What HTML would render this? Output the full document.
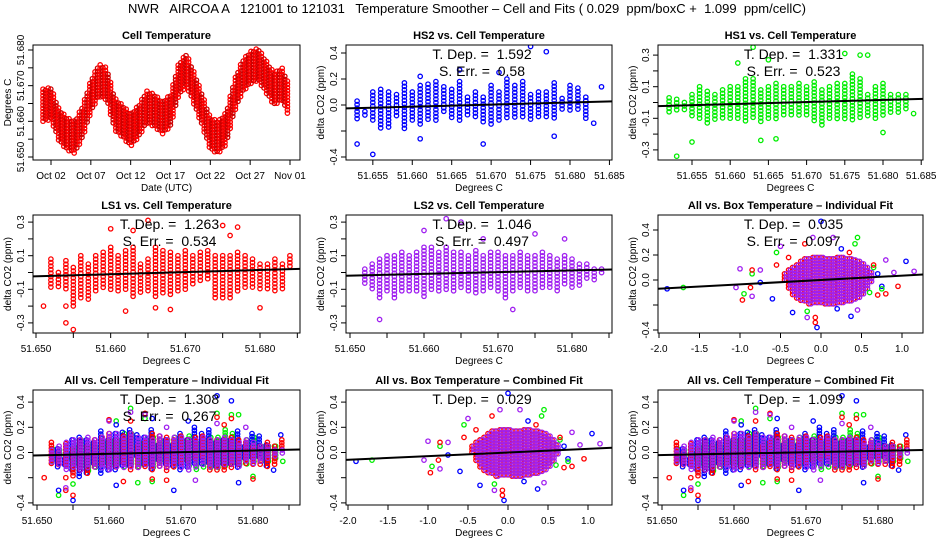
<!DOCTYPE html>
<html><head><meta charset="utf-8">
<style>
html,body{margin:0;padding:0;background:#fff;}
svg{display:block;font-family:"Liberation Sans",sans-serif;}
text{white-space:pre;}
</style></head>
<body>
<svg id="chart" width="936" height="540" viewBox="0 0 936 540" xmlns="http://www.w3.org/2000/svg">
<rect x="0" y="0" width="936" height="540" fill="#fff"/>
<text x="467" y="13" text-anchor="middle" font-size="13" xml:space="preserve">NWR   AIRCOA A   121001 to 121031   Temperature Smoother – Cell and Fits ( 0.029  ppm/boxC +  1.099  ppm/cellC)</text>
<defs id="defs"></defs>
</svg>
<script>
// ---------- DATA ----------
const tsDays = [1,2,3,4,5,6,7,8,9,10,11,12,13,14,15,16,17,18,19,20,21,22,23,24,25,26,27,28,29,30,31,32];
const tsTemps = [51.6645,51.665,51.659,51.6565,51.6555,51.660,51.667,51.6715,51.6705,51.662,51.660,51.6575,51.660,51.664,51.663,51.661,51.663,51.6715,51.6745,51.669,51.663,51.6565,51.6555,51.658,51.667,51.6725,51.675,51.676,51.6725,51.669,51.6705,51.665];
const tsDateTicks = [2,7,12,17,22,27,32];
const tsDateLabels = ["Oct 02","Oct 07","Oct 12","Oct 17","Oct 22","Oct 27","Nov 01"];

const hs2Bins = [51.653,51.654,51.655,51.656,51.657,51.658,51.659,51.660,51.661,51.662,51.663,51.664,51.665,51.666,51.667,51.668,51.669,51.670,51.671,51.672,51.673,51.674,51.675,51.676,51.677,51.678,51.679,51.680,51.681,51.682,51.683,51.684];
const hs2Lo = [-0.12,-0.1,-0.14,-0.2,-0.18,-0.1,-0.18,-0.14,-0.15,-0.12,-0.12,-0.05,-0.1,-0.13,-0.08,-0.1,-0.13,-0.15,-0.12,-0.1,-0.1,-0.1,-0.12,-0.1,-0.1,-0.12,-0.05,-0.05,-0.05,-0.12,-0.15,0.14];
const hs2Hi = [0.03,-0.05,0.1,0.12,0.1,0.08,0.17,0.1,0.15,0.16,0.18,0.14,0.12,0.18,0.06,0.1,0.06,0.15,0.1,0.2,0.15,0.18,0.08,0.1,0.1,0.17,0.05,0.15,0.13,0.06,-0.14,0.14];
const hs2OutX = [51.653,51.655,51.661,51.669,51.675,51.677,51.666,51.671,51.678,51.661];
const hs2OutY = [-0.3,-0.38,-0.26,-0.3,0.45,0.41,0.27,0.25,-0.24,0.22];

const hs1Bins = [51.652,51.653,51.654,51.655,51.656,51.657,51.658,51.659,51.660,51.661,51.662,51.663,51.664,51.665,51.666,51.667,51.668,51.669,51.670,51.671,51.672,51.673,51.674,51.675,51.676,51.677,51.678,51.679,51.680,51.681,51.682,51.683,51.684];
const hs1Lo = [-0.08,-0.05,-0.05,-0.1,-0.12,-0.15,-0.12,-0.1,-0.1,-0.1,-0.12,-0.1,-0.12,-0.1,-0.12,-0.08,-0.08,-0.1,-0.08,-0.12,-0.15,-0.12,-0.12,-0.12,-0.12,-0.1,-0.1,-0.1,-0.08,-0.08,-0.08,-0.05,-0.08];
const hs1Hi = [0.03,0.02,0,0.05,0.1,0.07,0.05,0.08,0.1,0.1,0.15,0.15,0.08,0.1,0.12,0.1,0.1,0.12,0.1,0.13,0.08,0.1,0.12,0.12,0.18,0.15,0.05,0.1,0.12,0.05,0.05,0.05,-0.07];
const hs1OutX = [51.653,51.655,51.663,51.665,51.661,51.675,51.677,51.678,51.664,51.666,51.680];
const hs1OutY = [-0.34,-0.25,0.35,0.27,0.25,0.31,0.3,0.3,-0.24,-0.23,-0.19];

const ls1Bins = [51.651,51.652,51.653,51.654,51.655,51.656,51.657,51.658,51.659,51.660,51.661,51.662,51.663,51.664,51.665,51.666,51.667,51.668,51.669,51.670,51.671,51.672,51.673,51.674,51.675,51.676,51.677,51.678,51.679,51.680,51.681,51.682,51.683,51.684];
const ls1Lo = [-0.2,-0.1,-0.1,-0.1,-0.2,-0.15,-0.17,-0.12,-0.1,-0.12,-0.12,-0.1,-0.15,-0.12,-0.12,-0.15,-0.12,-0.15,-0.12,-0.1,-0.08,-0.05,-0.05,-0.15,-0.15,-0.15,-0.12,-0.1,-0.1,-0.1,-0.1,-0.12,-0.1,0.02];
const ls1Hi = [-0.2,0.08,0,0.07,0.03,0.1,0.05,0.1,0.12,0.15,0.1,0.13,0.15,0.05,0.08,0.15,0.13,0.12,0.1,0.13,0.1,0.12,0.13,0.1,0.1,0.1,0.12,0.1,0.08,0.05,0.05,0.08,0.05,0.1];
const ls1OutX = [51.654,51.655,51.654,51.660,51.663,51.665,51.675,51.677,51.676,51.662,51.680,51.668,51.666];
const ls1OutY = [-0.3,-0.34,-0.2,0.26,0.25,0.31,0.28,0.27,0.22,-0.23,-0.21,-0.22,-0.21];

const ls2Bins = [51.652,51.653,51.654,51.655,51.656,51.657,51.658,51.659,51.660,51.661,51.662,51.663,51.664,51.665,51.666,51.667,51.668,51.669,51.670,51.671,51.672,51.673,51.674,51.675,51.676,51.677,51.678,51.679,51.680,51.681,51.682,51.683,51.684];
const ls2Lo = [-0.08,-0.1,-0.15,-0.12,-0.15,-0.12,-0.12,-0.12,-0.15,-0.12,-0.12,-0.12,-0.12,-0.1,-0.12,-0.12,-0.12,-0.1,-0.12,-0.15,-0.12,-0.1,-0.12,-0.12,-0.1,-0.1,-0.12,-0.08,-0.1,-0.08,-0.05,-0.05,-0.02];
const ls2Hi = [0.02,0.05,0.08,0.1,0.1,0.12,0.1,0.12,0.15,0.15,0.12,0.15,0.12,0.12,0.1,0.13,0.1,0.12,0.12,0.1,0.1,0.12,0.1,0.1,0.12,0.1,0.08,0.1,0.08,0.05,0.05,0.02,0.02];
const ls2OutX = [51.654,51.663,51.665,51.675,51.679,51.660,51.668,51.672];
const ls2OutY = [-0.28,0.32,0.3,0.23,0.2,0.25,0.2,-0.22];

const boxBins = [-0.45,-0.4,-0.35,-0.3,-0.25,-0.2,-0.15,-0.1,-0.05,0,0.05,0.1,0.15,0.2,0.25,0.3,0.35,0.4,0.45,0.5,0.55,0.6];
const boxLo = [-0.02,-0.08,-0.12,-0.15,-0.17,-0.18,-0.2,-0.2,-0.2,-0.2,-0.2,-0.2,-0.2,-0.2,-0.2,-0.18,-0.18,-0.17,-0.15,-0.12,-0.08,-0.03];
const boxHi = [0.05,0.08,0.1,0.12,0.15,0.17,0.17,0.18,0.18,0.18,0.17,0.17,0.17,0.18,0.18,0.17,0.17,0.16,0.15,0.13,0.1,0.06];
const boxBlueX = [-1.9,-0.75,1.05,0.25,-0.6,-0.05,0.0,0.37,0.2,-0.35,0.7,0.75];
const boxBlueY = [-0.07,-0.02,0.15,0.25,-0.15,-0.38,0.47,-0.29,-0.23,-0.26,0.05,-0.05];
const boxGreenX = [-1.7,-0.95,-0.85,-0.55,0.45,0.42,-0.17,0.75,0.6,0.65];
const boxGreenY = [-0.06,-0.11,0.05,0.22,0.34,0.29,-0.25,-0.07,-0.1,0.1];
const boxRedX = [-0.97,-0.87,-0.85,-0.55,-0.07,-0.07,0.95,0.8,-0.2,0.65,0.35,-0.4,0.7];
const boxRedY = [-0.16,-0.06,0.08,0.12,-0.3,-0.34,-0.05,-0.11,0.29,0.12,0.22,0.18,-0.12];
const boxPurpleX = [-1.0,-1.05,-0.85,-0.75,-0.1,0.15,1.15,0.9,0.45,-0.17,-0.5,0.8];
const boxPurpleY = [0.09,-0.06,-0.13,0.08,0.34,0.34,0.07,0.06,-0.24,-0.3,0.27,0.16];

const slopes = [1.592,1.331,1.263,1.046,0.035,1.308,0.029,1.099];
const sErrs = ["0.58","0.523","0.534","0.497","0.097","0.267"];
const tDeps = ["1.592","1.331","1.263","1.046","0.035","1.308","0.029","1.099"];

const cellTicks = [51.650,51.655,51.660,51.665,51.670,51.675,51.680,51.685];
const boxTicks = [-2.0,-1.5,-1.0,-0.5,0.0,0.5,1.0];
const boxTickLabels = ["-2.0","-1.5","-1.0","-0.5","0.0","0.5","1.0"];
const co2Ticks4 = [-0.4,-0.2,0.0,0.2,0.4];
const co2Labels4 = ["-0.4","","0.0","0.2","0.4"];
const co2Ticks3 = [-0.3,-0.2,-0.1,0.0,0.1,0.2,0.3];
const co2Labels3 = ["-0.3","","-0.1","","0.1","","0.3"];
const tempYTicks = [51.650,51.655,51.660,51.665,51.670,51.675,51.680];
const tempYLabels = ["51.650","","51.660","","51.670","","51.680"];

// ---------- RENDERING ----------
const NS = "http://www.w3.org/2000/svg";
const svg = document.getElementById("chart");
const defs = document.getElementById("defs");
const C = {blue:"#0000ff", green:"#00ee00", red:"#ff0000", purple:"#a020f0"};

function lin(d0, p0, d1, p1){ return v => p0 + (v - d0) * (p1 - p0) / (d1 - d0); }

function mkPanel(id, box, xs, ys){
  const g = document.createElementNS(NS, "g");
  
  
  svg.appendChild(g);
  const cp = document.createElementNS(NS, "clipPath");
  cp.setAttribute("id", "clip-" + id);
  const r = document.createElementNS(NS, "rect");
  r.setAttribute("x", box[0]); r.setAttribute("y", box[1]);
  r.setAttribute("width", box[2]-box[0]); r.setAttribute("height", box[3]-box[1]);
  cp.appendChild(r); defs.appendChild(cp);
  const marks = document.createElementNS(NS, "g");
  marks.setAttribute("clip-path", "url(#clip-" + id + ")");
  
  
  g.appendChild(marks);
  return {g, marks, box, xs, ys};
}

function circ(p, x, y, color, name){
  const c = document.createElementNS(NS, "circle");
  c.setAttribute("cx", x.toFixed(1));
  c.setAttribute("cy", y.toFixed(1));
  c.setAttribute("r", "2.2");
  c.setAttribute("fill", "none");
  c.setAttribute("stroke", color);
  c.setAttribute("stroke-width", "1.3");
  
  
  p.marks.appendChild(c);
}

function txt(parent, x, y, s, size, opts, name){
  const t = document.createElementNS(NS, "text");
  t.setAttribute("x", x); t.setAttribute("y", y);
  t.setAttribute("font-size", size);
  t.setAttribute("text-anchor", (opts && opts.anchor) || "middle");
  if (opts && opts.bold) t.setAttribute("font-weight", "bold");
  if (opts && opts.rot) t.setAttribute("transform", "rotate(-90 " + x + " " + y + ")");
  t.textContent = s;
  
  
  parent.appendChild(t);
}

function line(parent, x1, y1, x2, y2, w, name){
  const l = document.createElementNS(NS, "line");
  l.setAttribute("x1", x1); l.setAttribute("y1", y1);
  l.setAttribute("x2", x2); l.setAttribute("y2", y2);
  l.setAttribute("stroke", "#000"); l.setAttribute("stroke-width", w);
  
  
  parent.appendChild(l);
}

function frame(p, title, xTicks, xLabels, yTicks, yLabels, xTitle, yTitle){
  const b = p.box;
  const r = document.createElementNS(NS, "rect");
  r.setAttribute("x", b[0]); r.setAttribute("y", b[1]);
  r.setAttribute("width", b[2]-b[0]); r.setAttribute("height", b[3]-b[1]);
  r.setAttribute("fill", "none"); r.setAttribute("stroke", "#000");
  
  
  p.g.appendChild(r);
  txt(p.g, (b[0]+b[2])/2, b[1]-6, title, 11, {bold:true}, "panel-title");
  xTicks.forEach((v,i) => {
    const x = p.xs(v);
    if (x < b[0]-1 || x > b[2]+1) return;
    line(p.g, x, b[3], x, b[3]+5, 1, "x-tick");
    if (xLabels[i]) txt(p.g, x, b[3]+19, xLabels[i], 10, null, "x-tick-label");
  });
  yTicks.forEach((v,i) => {
    const y = p.ys(v);
    line(p.g, b[0]-5, y, b[0], y, 1, "y-tick");
    if (yLabels[i]) txt(p.g, b[0]-9, y, yLabels[i], 10, {rot:true}, "y-tick-label");
  });
  txt(p.g, (b[0]+b[2])/2, b[3]+31, xTitle, 10, null, "x-axis-title");
  txt(p.g, b[0]-22, (b[1]+b[3])/2, yTitle, 10, {rot:true}, "y-axis-title");
}

function columns(p, bins, lo, hi, color, name, dx, step){
  bins.forEach((xv,i) => {
    const x = p.xs(xv) + (dx||0);
    const y0 = p.ys(hi[i]), y1 = p.ys(lo[i]);
    for (let y = y0; y <= y1 + 0.01; y += (step||3)) circ(p, x, y, color, name);
  });
}
function outliers(p, xsA, ysA, color, name){
  xsA.forEach((xv,i) => circ(p, p.xs(xv), p.ys(ysA[i]), color, name));
}
function fit(p, slope, xc){
  const b = p.box;
  const x0 = p.xsInv(b[0]), x1 = p.xsInv(b[2]);
  line(p.g, b[0], p.ys(slope*(x0-xc)), b[2], p.ys(slope*(x1-xc)), 2, "fit-line");
}
function stats(p, tdep, serr){
  const b = p.box, cx = (b[0]+b[2])/2 + 3;
  txt(p.g, cx, b[1]+14, "T. Dep. =  " + tdep, 14, null, "t-dep-annotation");
  if (serr) txt(p.g, cx, b[1]+31, "S. Err. =  " + serr, 14, null, "s-err-annotation");
}
function withInv(p, d0, p0, d1, p1){ p.xsInv = lin(p0, d0, p1, d1); return p; }

const XC = 51.668;

// Panel 1: time series
(function(){
  const xs = lin(2, 51, 32, 290), ys = lin(51.650, 157, 51.680, 50);
  const p = mkPanel("cell-temperature", [33,45,300,160], xs, ys);
  let col = 0;
  for (let px = xs(tsDays[0]); px <= xs(tsDays[tsDays.length-1]); px += 2.6){
    const d = 2 + (px - 51) / ((290-51)/30);
    let k = Math.min(tsDays.length-2, Math.max(0, Math.floor(d - tsDays[0])));
    const f = (d - tsDays[k]) / (tsDays[k+1]-tsDays[k]);
    const v = tsTemps[k] + f * (tsTemps[k+1]-tsTemps[k]);
    const off = (col % 2) * 1.6;
    for (let y = ys(v + 0.0045) + off; y <= ys(v - 0.0045); y += 3.2) circ(p, px, y, (col % 2) ? "#cc0000" : "#ff0000", "temperature-point");
    col++;
  }
  frame(p, "Cell Temperature", tsDateTicks, tsDateLabels, tempYTicks, tempYLabels, "Date (UTC)", "Degrees C");
})();

function cellPanel(id, box, x650, x680, y0, pxPerUnit, title, yT, yL, series, k, serr, xLabels){
  const xs = lin(51.650, x650, 51.680, x680), ys = v => y0 - v*pxPerUnit;
  const p = withInv(mkPanel(id, box, xs, ys), 51.650, x650, 51.680, x680);
  series.forEach(s => { columns(p, s[0], s[1], s[2], s[5], id+"-point", s[6], s[7]); outliers(p, s[3], s[4], s[5], id+"-outlier"); });
  fit(p, slopes[k], XC);
  stats(p, tDeps[k], serr);
  frame(p, title, cellTicks, xLabels, yT, yL, "Degrees C", "delta CO2 (ppm)");
}
const evenLabels = ["51.650","","51.660","","51.670","","51.680",""];
const hsLabels = ["","51.655","51.660","51.665","51.670","51.675","51.680","51.685"];

cellPanel("hs2", [346,45,612,160], 333.4, 570, 105, 130, "HS2 vs. Cell Temperature", co2Ticks4, co2Labels4,
  [[hs2Bins,hs2Lo,hs2Hi,hs2OutX,hs2OutY,C.blue,0,3.5]], 0, sErrs[0], hsLabels);
cellPanel("hs1", [658,45,923,160], 653.8, 883, 102.5, 158, "HS1 vs. Cell Temperature", co2Ticks3, co2Labels3,
  [[hs1Bins,hs1Lo,hs1Hi,hs1OutX,hs1OutY,C.green,0,3.5]], 1, sErrs[1], hsLabels);
cellPanel("ls1", [33,215,300,333], 36, 260, 272.5, 168, "LS1 vs. Cell Temperature", co2Ticks3, co2Labels3,
  [[ls1Bins,ls1Lo,ls1Hi,ls1OutX,ls1OutY,C.red,0,3.5]], 2, sErrs[2], evenLabels);
cellPanel("ls2", [346,215,612,333], 350, 572, 272.5, 168, "LS2 vs. Cell Temperature", co2Ticks3, co2Labels3,
  [[ls2Bins,ls2Lo,ls2Hi,ls2OutX,ls2OutY,C.purple,0,3.5]], 3, sErrs[3], evenLabels);

const allSeries = [
  [hs1Bins,hs1Lo,hs1Hi,hs1OutX,hs1OutY,C.green,1,3],
  [hs2Bins,hs2Lo,hs2Hi,hs2OutX,hs2OutY,C.blue,-1,3],
  [ls1Bins,ls1Lo,ls1Hi,ls1OutX,ls1OutY,C.red,0,3],
  [ls2Bins,ls2Lo,ls2Hi,ls2OutX,ls2OutY,C.purple,0.5,3]
];
cellPanel("all-cell-individual", [33,390,300,505], 37, 253, 452.5, 126, "All vs. Cell Temperature – Individual Fit", co2Ticks4, co2Labels4,
  allSeries, 5, sErrs[5], evenLabels);
cellPanel("all-cell-combined", [658,390,923,505], 662, 878, 452.5, 126, "All vs. Cell Temperature – Combined Fit", co2Ticks4, co2Labels4,
  allSeries, 7, null, evenLabels);

function boxPanel(id, box, xm2, x1, y0, pxPerUnit, title, k, serr){
  const xs = lin(-2, xm2, 1, x1), ys = v => y0 - v*pxPerUnit;
  const p = withInv(mkPanel(id, box, xs, ys), -2, xm2, 1, x1);
  columns(p, boxBins, boxLo, boxHi, C.red, id+"-point", 0, 3);
  columns(p, boxBins, boxLo, boxHi, C.purple, id+"-point", 2, 3);
  outliers(p, boxBlueX, boxBlueY, C.blue, id+"-outlier");
  outliers(p, boxGreenX, boxGreenY, C.green, id+"-outlier");
  outliers(p, boxRedX, boxRedY, C.red, id+"-outlier");
  outliers(p, boxPurpleX, boxPurpleY, C.purple, id+"-outlier");
  fit(p, slopes[k], 0);
  stats(p, tDeps[k], serr);
  frame(p, title, boxTicks, boxTickLabels, co2Ticks4, co2Labels4, "Degrees C", "delta CO2 (ppm)");
}
boxPanel("all-box-individual", [658,215,923,333], 659, 902, 280, 125, "All vs. Box Temperature – Individual Fit", 4, sErrs[4]);
boxPanel("all-box-combined", [346,390,612,505], 348, 588, 452.5, 126, "All vs. Box Temperature – Combined Fit", 6, null);
</script>
</body></html>
